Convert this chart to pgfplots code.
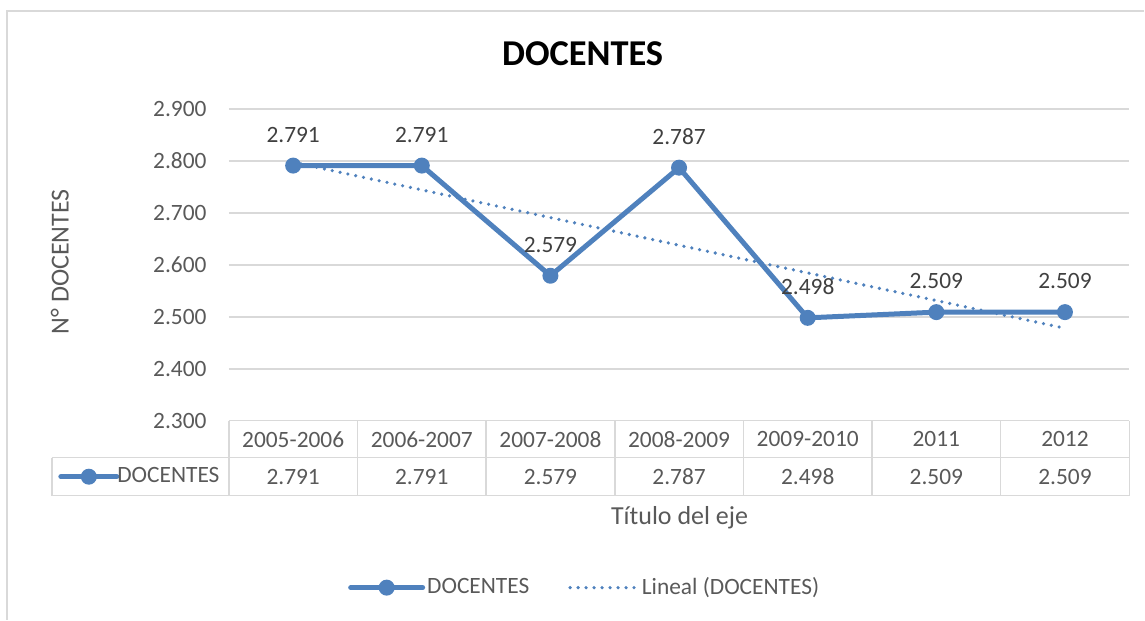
\documentclass[border=0pt]{standalone}
\usepackage{fontspec}
\setmainfont{Carlito}
\usepackage{pgfplots}
\pgfplotsset{compat=1.18}
\definecolor{xblue}{HTML}{4F81BD}
\definecolor{gridgray}{HTML}{D9D9D9}
\definecolor{labgray}{HTML}{595959}
\definecolor{datagray}{HTML}{404040}
\newcommand\fs{\fontsize{11.7}{14}\selectfont}
\newcommand\fl{\fontsize{13}{15.6}\selectfont}
\pgfplotsset{
  mainleg/.style={legend image code/.code={\draw[##1, mark repeat=2, mark phase=2] plot coordinates {(0pt,0pt) (18pt,0pt) (36pt,0pt)};}},
  trendleg/.style={legend image code/.code={\draw[##1] (0pt,0pt) -- (34pt,0pt);}},
  tableleg/.style={legend image code/.code={\draw[##1, mark repeat=2, mark phase=2] plot coordinates {(0pt,0pt) (14pt,0pt) (28pt,0pt)};}},
}
\begin{document}
\begin{tikzpicture}
\begin{scope}[x=0.5pt,y=-0.5pt]
\path (0,0) rectangle (1145,620);
\draw[gridgray, line width=0.75pt] (7,620) -- (7,11) -- (1145,11);
\coordinate (A) at (229,109);
\end{scope}
\begin{axis}[
  at={(A)}, anchor=north west,
  width=450.5pt, height=156pt, scale only axis,
  xmin=-0.5, xmax=6.5, ymin=2.3, ymax=2.9,
  clip=false,
  axis line style={draw=none},
  major tick length=0pt,
  ytick={2.3,2.4,2.5,2.6,2.7,2.8,2.9},
  ymajorgrids, grid style={color=gridgray, line width=0.75pt},
  /pgf/number format/.cd, fixed, fixed zerofill, precision=3, assume math mode=true,
  /pgfplots/.cd,
  yticklabel style={anchor=east, inner sep=0pt, xshift=-11pt, font=\fs, text=labgray},
  xtick={0,1,2,3,4,5,6},
  xticklabels={2005-2006,2006-2007,2007-2008,2008-2009,2009-2010,2011,2012},
  xticklabel style={anchor=center, inner sep=0pt, yshift=-9.25pt, font=\fs, text=labgray},
  extra x ticks={0,1,2,3,4,5,6},
  extra x tick labels={2.791,2.791,2.579,2.787,2.498,2.509,2.509},
  extra x tick style={xticklabel style={yshift=-18.75pt}},
  ylabel={N° DOCENTES},
  ylabel style={at={(axis description cs:-0.1876,0.5096)}, anchor=center, rotate=0, font=\fl, text=labgray},
  xlabel={Título del eje},
  xlabel style={at={(axis description cs:0.5006,-0.3109)}, anchor=center, font=\fl, text=labgray},
  title={DOCENTES},
  title style={at={(axis description cs:0.3929,1.138)}, anchor=center, font=\fontsize{18.2}{21}\selectfont\bfseries, text=black},
  legend columns=2,
  legend style={at={(axis description cs:0.1321,-0.5353)}, anchor=west, draw=none, fill=none, inner sep=0pt,
    nodes={inner sep=0pt, font=\fs, text=labgray},
    /tikz/every odd column/.append style={column sep=1pt},
    /tikz/every even column/.append style={column sep=19.5pt}},
]
\addplot[xblue, line width=2.5pt, line cap=round, line join=round, mark=*, mark size=3.6pt, mark options={solid, fill=xblue, line width=0.8pt},
  nodes near coords, every node near coord/.append style={anchor=center, yshift=15.5pt, font=\fs, text=datagray},
  mainleg]
coordinates {(0,2.791) (1,2.791) (2,2.579) (3,2.787) (4,2.498) (5,2.509) (6,2.509)};
\addlegendentry{DOCENTES}
\addplot[xblue, line width=1.8pt, line cap=round, dash pattern=on 0pt off 4pt, trendleg]
coordinates {(0,2.797464) (6,2.477964)};
\addlegendentry{Lineal (DOCENTES)}
\end{axis}
\begin{axis}[
  at={(A)}, anchor=north west,
  width=450.5pt, height=156pt, scale only axis,
  xmin=-0.5, xmax=6.5, ymin=2.3, ymax=2.9, hide axis,
  legend style={at={(axis description cs:-0.1898,-0.1795)}, anchor=west, draw=none, fill=none, inner sep=0pt,
    nodes={inner sep=0pt, font=\fs, text=labgray},
    /tikz/every odd column/.append style={column sep=-1pt}},
]
\addlegendimage{xblue, line width=2.5pt, line cap=round, mark=*, mark size=3.6pt, mark options={solid, fill=xblue, line width=0.8pt}, tableleg}
\addlegendentry{DOCENTES}
\end{axis}
\begin{scope}[x=0.5pt,y=-0.5pt]
\draw[gridgray, line width=0.75pt] (229,421) -- (1130,421);
\draw[gridgray, line width=0.75pt] (52,458) -- (1130,458);
\draw[gridgray, line width=0.75pt] (52,496) -- (1130,496);
\draw[gridgray, line width=0.75pt] (52,458) -- (52,496);
\foreach \k in {0,...,7} {\draw[gridgray, line width=0.75pt] ({229+128.714*\k},421) -- ({229+128.714*\k},496);}
\end{scope}
\end{tikzpicture}
\end{document}
